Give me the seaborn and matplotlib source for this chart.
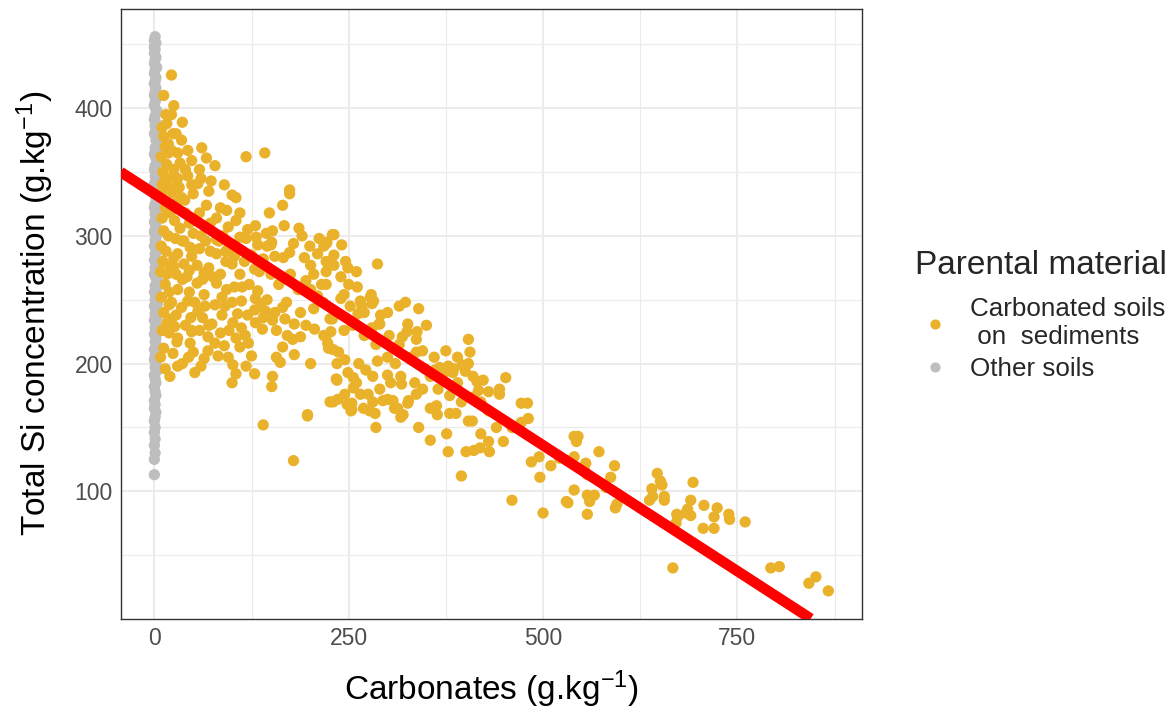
import matplotlib
matplotlib.use("Agg")
import matplotlib.pyplot as plt
import numpy as np
import pandas as pd
import seaborn as sns
from matplotlib.lines import Line2D

# ---------------- data ----------------
group_labels = ["Carbonated soils\n on  sediments", "Other soils"]
group_colors = ["#EAB12A", "#BEBEBE"]

# (Carbonates g/kg, Total Si g/kg) for "Other soils"
grey_pts = [
    (1, 456), (0, 453), (2, 451), (0, 448), (1, 446), (0, 443), (2, 440), (1, 438), (0, 435),
    (3, 432), (1, 430), (0, 427), (2, 424), (1, 421), (0, 419), (2, 416), (1, 413), (0, 410),
    (3, 408), (1, 405), (0, 402), (2, 399), (4, 397), (1, 394), (0, 391), (3, 388), (1, 386),
    (5, 383), (0, 380), (6, 377), (2, 375), (5, 372), (1, 369), (3, 366), (0, 364), (2, 361),
    (4, 358), (1, 355), (0, 352), (3, 350), (1, 347), (2, 344), (0, 341), (3, 339), (1, 336),
    (0, 333), (2, 330), (4, 328), (1, 325), (0, 322), (2, 319), (1, 317), (3, 314), (0, 311),
    (2, 308), (1, 305), (0, 303), (3, 300), (1, 297), (2, 294), (0, 292), (4, 289), (1, 286),
    (2, 283), (0, 281), (5, 278), (1, 275), (3, 272), (0, 270), (2, 267), (5, 264), (1, 261),
    (3, 259), (0, 256), (2, 253), (1, 250), (4, 247), (0, 245), (2, 242), (1, 239), (3, 236),
    (0, 234), (2, 231), (1, 228), (4, 225), (0, 223), (2, 220), (1, 217), (3, 214), (0, 211),
    (2, 209), (1, 206), (0, 203), (2, 200), (1, 197), (3, 194), (0, 191), (1, 188), (2, 185),
    (0, 182), (1, 178), (2, 175), (0, 171), (1, 168), (0, 165), (2, 162), (1, 158), (0, 155),
    (1, 150), (0, 146), (1, 141), (0, 136), (1, 130), (0, 125), (0, 113),
]

# (Carbonates g/kg, Total Si g/kg) for "Carbonated soils on sediments"
orange_pts = [
    (22, 426), (22, 395), (36, 389), (16, 388), (24, 380), (18, 372), (22, 367), (43, 367),
    (61, 369), (67, 361), (48, 359), (33, 357), (118, 362), (142, 365), (58, 352), (43, 347),
    (73, 343), (56, 341), (29, 338), (23, 334), (50, 333), (105, 330), (174, 336), (174, 333),
    (39, 328), (67, 324), (93, 320), (165, 324), (80, 314), (105, 312), (148, 318), (186, 306),
    (95, 307), (167, 308), (131, 299), (144, 302), (152, 304), (212, 298), (229, 301), (110, 299),
    (179, 294), (150, 293), (80, 297), (222, 295),
    (14, 196), (52, 193), (105, 192), (129, 192), (152, 190), (151, 182), (157, 205), (162, 201),
    (201, 200), (197, 160), (101, 199), (50, 209), (69, 210), (44, 205), (110, 213), (29, 217),
    (48, 225), (19, 224), (26, 229), (69, 221), (105, 220), (121, 216), (117, 222), (139, 227),
    (152, 234), (157, 226), (171, 222), (178, 219), (165, 213), (180, 207), (188, 221), (206, 227),
    (218, 222), (223, 216), (230, 211), (227, 225), (180, 231), (168, 235), (188, 240), (165, 244),
    (129, 242), (143, 241), (137, 247), (130, 251), (101, 232), (87, 238), (65, 245), (91, 245),
    (107, 239), (112, 249), (64, 254), (43, 249), (19, 246), (22, 235), (47, 236), (74, 231),
    (56, 241), (87, 252), (103, 260), (113, 260), (93, 258), (122, 262), (133, 257), (80, 263),
    (55, 263), (36, 266), (19, 256), (64, 271), (45, 273), (25, 276), (92, 280), (103, 284),
    (116, 280), (129, 274), (155, 284), (166, 283), (174, 287), (151, 295), (133, 293), (92, 288),
    (72, 288), (46, 291), (25, 283), (36, 296), (83, 296), (193, 283), (201, 277), (210, 286),
    (218, 292), (224, 277), (201, 258), (210, 253), (217, 248), (226, 235), (234, 188), (230, 170),
    (231, 301), (221, 294), (241, 293), (231, 285), (221, 280), (246, 280), (249, 275), (287, 278),
    (231, 277), (221, 272), (221, 262), (261, 260), (244, 254), (240, 251), (278, 252), (280, 247),
    (265, 249), (252, 245), (262, 239), (291, 238), (323, 248), (340, 243), (289, 231), (229, 235),
    (244, 226), (221, 222), (302, 222), (325, 225), (337, 219), (319, 221), (315, 215), (337, 209),
    (404, 219), (406, 209), (404, 200), (224, 212), (237, 209), (235, 200), (245, 203), (249, 193),
    (263, 200), (272, 195), (287, 202), (281, 190), (300, 191), (317, 190), (304, 185), (318, 184),
    (335, 185), (348, 196), (361, 195), (369, 191), (378, 198), (384, 193), (235, 187), (256, 189),
    (256, 181), (265, 176), (245, 176), (236, 172), (281, 170), (294, 171), (307, 171), (309, 165),
    (327, 171), (337, 176), (355, 165), (380, 161), (415, 186), (417, 179), (411, 174), (444, 180),
    (452, 189), (444, 176), (472, 169), (480, 169), (254, 169), (277, 163), (254, 164),
    (279, 254), (282, 249), (267, 245), (290, 231), (326, 231), (338, 225), (367, 197), (376, 194),
    (385, 196), (396, 199), (400, 194), (423, 187),
    (285, 150), (269, 165), (284, 161), (317, 158), (313, 165), (326, 169), (363, 167), (364, 160),
    (376, 145), (378, 131), (388, 161), (395, 112), (401, 131), (404, 155), (409, 155), (411, 132),
    (430, 139), (431, 131), (449, 139), (460, 93), (481, 157), (472, 154), (485, 123), (496, 111),
    (500, 83), (540, 101), (532, 91), (557, 82), (555, 122), (572, 131),
    (469, 150), (430, 163), (419, 134), (495, 127), (510, 120), (521, 126), (540, 143), (545, 143),
    (543, 139), (540, 127), (592, 120), (587, 111), (553, 118), (557, 113), (581, 103), (557, 97),
    (566, 97), (560, 92), (530, 92), (593, 87), (647, 114), (651, 108), (672, 82),
    (595, 90), (640, 102), (653, 105), (641, 96), (637, 93), (656, 96), (656, 93), (693, 107),
    (690, 93), (707, 89), (724, 87), (720, 80), (739, 82), (740, 78), (760, 76), (686, 86),
    (684, 83), (673, 80), (671, 75), (690, 81), (706, 71), (720, 71), (667, 40), (793, 40),
    (804, 41), (842, 28), (851, 33), (867, 22),
    (140, 152), (197, 159), (179, 124), (226, 170), (248, 168), (253, 163),
    (10, 385), (12, 378), (14, 370), (9, 362), (16, 356), (11, 350), (25, 352), (30, 345),
    (13, 343), (18, 338), (9, 333), (35, 330), (28, 326), (14, 322), (20, 318), (40, 318),
    (10, 314), (26, 312), (45, 310), (33, 306), (12, 304), (18, 300), (50, 302), (27, 298),
    (38, 296), (9, 292), (60, 300), (15, 288), (30, 286), (48, 284), (58, 290), (11, 280),
    (20, 277), (38, 278), (55, 277), (70, 275), (8, 272), (28, 270), (42, 268), (62, 266),
    (75, 268), (14, 262), (30, 258), (45, 256), (85, 270), (9, 252), (22, 248), (35, 244),
    (52, 248), (78, 246), (12, 240), (28, 238), (62, 236), (16, 232), (40, 230), (58, 226),
    (10, 226), (30, 220), (46, 216), (12, 212), (24, 208), (64, 204), (82, 206), (36, 200),
    (90, 214), (96, 226), (100, 248), (80, 286), (66, 296), (88, 300), (98, 292), (72, 310),
    (58, 318), (85, 322), (48, 340), (30, 365), (40, 352), (60, 345), (35, 375), (15, 395),
    (25, 402), (12, 410), (70, 335), (78, 355), (90, 340), (100, 332), (110, 318), (120, 305),
    (95, 290), (100, 278), (110, 270), (125, 285), (135, 272), (140, 282), (150, 270), (160, 262),
    (145, 250), (155, 240), (170, 248), (185, 258), (195, 265), (205, 270), (215, 262), (240, 268),
    (250, 262), (260, 272), (195, 230), (205, 243), (175, 270), (190, 300), (200, 292), (145, 292),
    (118, 298), (130, 308), (70, 230), (85, 224), (120, 238), (130, 232), (140, 236), (112, 228),
    (95, 205), (78, 216), (100, 185), (125, 206), (118, 198), (60, 198), (48, 226), (20, 190),
    (30, 198), (8, 205), (16, 270), (22, 320), (10, 340), (18, 365), (28, 380), (20, 345),
    (32, 338),
    (255, 230), (270, 222), (285, 215), (300, 205), (310, 200), (330, 205), (345, 210), (360, 205),
    (375, 210), (390, 205), (300, 240), (315, 245), (270, 240), (280, 228), (350, 230), (365, 180),
    (380, 175), (395, 170), (420, 170), (430, 178), (345, 180), (355, 190), (290, 180), (275, 176),
    (260, 185), (300, 172), (320, 160), (340, 150), (355, 140), (420, 145), (440, 150), (460, 150),
    (390, 185), (410, 190),
]

# fitted regression line
fit_intercept = 333.0
fit_slope = -0.394

x_ticks = [0, 250, 500, 750]
x_minor = [125, 375, 625, 875]
y_ticks = [100, 200, 300, 400]
y_minor = [50, 150, 250, 350, 450]

# ---------------- build frame ----------------
rows = [(x, y, group_labels[1]) for x, y in grey_pts] + \
       [(x, y, group_labels[0]) for x, y in orange_pts]
df = pd.DataFrame(rows, columns=["carb", "si", "group"])

# ---------------- style ----------------
sns.set_theme(style="white")
plt.rcParams["font.family"] = ["Liberation Sans", "DejaVu Sans"]
plt.rcParams["mathtext.fontset"] = "custom"
plt.rcParams["mathtext.rm"] = "Liberation Sans"
plt.rcParams["mathtext.it"] = "Liberation Sans:italic"
plt.rcParams["mathtext.bf"] = "Liberation Sans:bold"

fig = plt.figure(figsize=(11.76, 7.14), dpi=100)
ax = fig.add_axes([0.1026, 0.1336, 0.6304, 0.8538])

palette = dict(zip(group_labels, group_colors))
sns.scatterplot(data=df, x="carb", y="si", hue="group", palette=palette,
                s=66, linewidth=0, legend=False, ax=ax, zorder=3)

ax.axline((0, fit_intercept), slope=fit_slope, color="#FF0000", lw=7.6,
          solid_capstyle="butt", zorder=4)

# ggplot-like 5% expansion
xr = df["carb"].max() - df["carb"].min()
yr = df["si"].max() - df["si"].min()
ax.set_xlim(df["carb"].min() - 0.05 * xr, df["carb"].max() + 0.05 * xr)
ax.set_ylim(df["si"].min() - 0.05 * yr, df["si"].max() + 0.05 * yr)

ax.set_xticks(x_ticks)
ax.set_xticks(x_minor, minor=True)
ax.set_yticks(y_ticks)
ax.set_yticks(y_minor, minor=True)
ax.set_axisbelow(True)
ax.grid(which="major", color="#EBEBEB", lw=1.5)
ax.grid(which="minor", color="#EBEBEB", lw=0.8)
ax.tick_params(which="major", length=3.2, width=1.0, color="#333333",
               labelsize=16.5, labelcolor="#4D4D4D", pad=2.5)
ax.tick_params(which="minor", length=0)
for sp in ax.spines.values():
    sp.set_color("#333333")
    sp.set_linewidth(1.0)

ax.set_xlabel("Carbonates (g.kg$^{-1}$)", fontsize=24, color="black", labelpad=14)
ax.set_ylabel("Total Si concentration (g.kg$^{-1}$)", fontsize=24, color="black", labelpad=13)

handles = [Line2D([], [], marker="o", ls="", color=c, markersize=6.3) for c in group_colors]
leg = fig.legend(handles, group_labels, loc="upper left",
                 bbox_to_anchor=(905 / 1176, 1 - 240 / 714), frameon=False,
                 title="Parental material", title_fontsize=24, fontsize=18.7,
                 alignment="left", handletextpad=0.6, labelspacing=0.3,
                 handlelength=1.5, borderaxespad=0)
leg._legend_box.sep = 0.62 * 18.7  # gap between title and entries

fig.savefig("out.png", dpi=100)
